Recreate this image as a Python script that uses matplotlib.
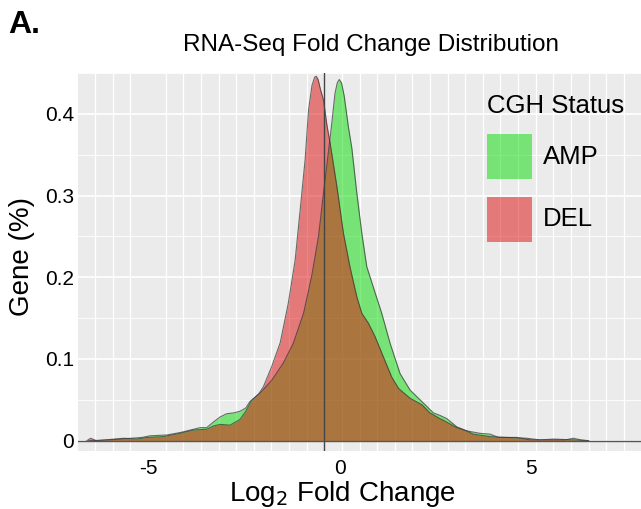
import matplotlib
matplotlib.use("Agg")
import matplotlib.pyplot as plt
from matplotlib.patches import Rectangle
from matplotlib.ticker import MultipleLocator, FixedLocator
import numpy as np

plt.rcParams["font.family"] = ["Liberation Sans", "DejaVu Sans"]
plt.rcParams["axes.unicode_minus"] = False

# density values (log2 fold change, density)
amp_x = [-6.55, -6.0, -5.73, -5.16, -4.95, -4.51, -4.16, -3.9, -3.64, -3.47,
         -3.29, -3.12, -2.95, -2.77, -2.6, -2.45, -2.34, -2.08, -1.77, -1.47,
         -1.21, -0.94, -0.73, -0.55, -0.42, -0.29, -0.2, -0.12, -0.06, -0.01,
         0.05, 0.12, 0.23, 0.32, 0.45, 0.58, 0.71, 0.88, 1.10, 1.32,
         1.58, 1.84, 2.19, 2.45, 2.62, 2.80, 3.06, 3.32, 3.67, 3.93,
         4.15, 4.63, 4.97, 5.5, 5.9, 6.1, 6.3, 6.5]
amp_y = [0.0, 0.001, 0.002, 0.004, 0.006, 0.007, 0.010, 0.013, 0.016, 0.016,
         0.023, 0.029, 0.033, 0.034, 0.036, 0.040, 0.048, 0.058, 0.074, 0.095,
         0.119, 0.156, 0.201, 0.250, 0.303, 0.354, 0.390, 0.425, 0.438, 0.442,
         0.438, 0.422, 0.384, 0.358, 0.303, 0.254, 0.213, 0.188, 0.156, 0.119,
         0.082, 0.062, 0.046, 0.034, 0.031, 0.027, 0.017, 0.012, 0.009, 0.008,
         0.004, 0.004, 0.001, 0.001, 0.001, 0.003, 0.001, 0.0]

del_x = [-6.6, -6.5, -6.35, -5.64, -5.3, -5.03, -4.6, -4.17, -3.82, -3.47,
         -3.29, -3.12, -2.86, -2.6, -2.45, -2.3, -2.1, -1.99, -1.77, -1.55,
         -1.34, -1.16, -1.03, -0.90, -0.81, -0.72, -0.65, -0.61, -0.56, -0.5,
         -0.42, -0.33, -0.25, -0.07, 0.10, 0.27, 0.45, 0.58, 0.75, 0.93,
         1.14, 1.36, 1.54, 1.84, 2.15, 2.36, 2.62, 2.71, 3.06, 3.32,
         3.49, 3.93, 4.37, 4.89, 5.23, 5.6, 6.1, 6.5]
del_y = [0.0, 0.003, 0.0, 0.003, 0.002, 0.004, 0.005, 0.009, 0.013, 0.014,
         0.018, 0.020, 0.019, 0.026, 0.036, 0.049, 0.058, 0.066, 0.091, 0.120,
         0.168, 0.221, 0.282, 0.344, 0.405, 0.435, 0.445, 0.446, 0.442, 0.430,
         0.417, 0.386, 0.365, 0.311, 0.254, 0.213, 0.176, 0.156, 0.144, 0.127,
         0.103, 0.078, 0.064, 0.052, 0.044, 0.034, 0.027, 0.025, 0.016, 0.012,
         0.008, 0.005, 0.004, 0.003, 0.001, 0.002, 0.001, 0.0]

median_line = -0.4
groups = ["AMP", "DEL"]
fills = ["#05dd05", "#dd0909"]

W, H = 641, 509


def fx(x, y):
    return x / W, 1 - y / H


fig = plt.figure(figsize=(W / 100, H / 100), dpi=100)
ax = fig.add_axes([78 / W, (H - 451) / H, (W - 78) / W, (451 - 73) / H])
ax.set_facecolor("#ebebeb")
for s in ax.spines.values():
    s.set_visible(False)

ax.set_xlim(-6.83, 7.87)
ax.set_ylim(-0.0126, 0.45)

# ggplot style grid
ax.xaxis.set_minor_locator(FixedLocator(-5 + 0.46 * np.arange(-5, 30)))
ax.yaxis.set_major_locator(FixedLocator([0, 0.1, 0.2, 0.3, 0.4]))
ax.yaxis.set_minor_locator(MultipleLocator(0.05))
ax.set_xticks([-5, 0, 5])
ax.set_xticklabels(["-5", "0", "5"])
ax.grid(which="minor", axis="x", color="white", lw=0.9)
ax.grid(which="major", axis="y", color="white", lw=1.2)
ax.grid(which="minor", axis="y", color="white", lw=0.6)
ax.set_axisbelow(True)
ax.set_yticklabels(["0", "0.1", "0.2", "0.3", "0.4"])
ax.tick_params(which="both", length=0)
ax.tick_params(axis="y", labelsize=15, pad=3)
ax.tick_params(axis="x", labelsize=15, pad=6)

for xs, ys, c in [(amp_x, amp_y, fills[0]), (del_x, del_y, fills[1])]:
    ax.fill_between(xs, 0, ys, color=c, alpha=0.5, lw=0)
    ax.plot(xs, ys, color="#333333", lw=0.8, alpha=0.7)

ax.axvline(median_line, color="#444444", lw=1.0)
ax.axhline(0, color="#555555", lw=1.0)

# legend inside panel
fig.text(*fx(487, 113), "CGH Status", fontsize=18.5, va="baseline", ha="left")
keys = [(134, 157), (197, 219)]
for (top, mid), g, c in zip(keys, groups, fills):
    x0, y0 = fx(487, top + 45)
    fig.patches.append(Rectangle((x0, y0), 45 / W, 45 / H, transform=fig.transFigure,
                                 facecolor=c, alpha=0.5, lw=0))
    fig.text(*fx(543, mid), g, fontsize=18.5, va="center", ha="left")

fig.text(*fx(8, 33), "A.", fontsize=23, fontweight="bold", va="baseline")
fig.text(*fx(183, 51), "RNA-Seq Fold Change Distribution", fontsize=17.5,
         va="baseline", ha="left")
fig.text(*fx(343, 501), "Log$_2$ Fold Change", fontsize=20, va="baseline", ha="center")
fig.text(*fx(22, 256), "Gene (%)", fontsize=20, rotation=90, va="center", ha="center")

fig.savefig("out.png", dpi=100)
